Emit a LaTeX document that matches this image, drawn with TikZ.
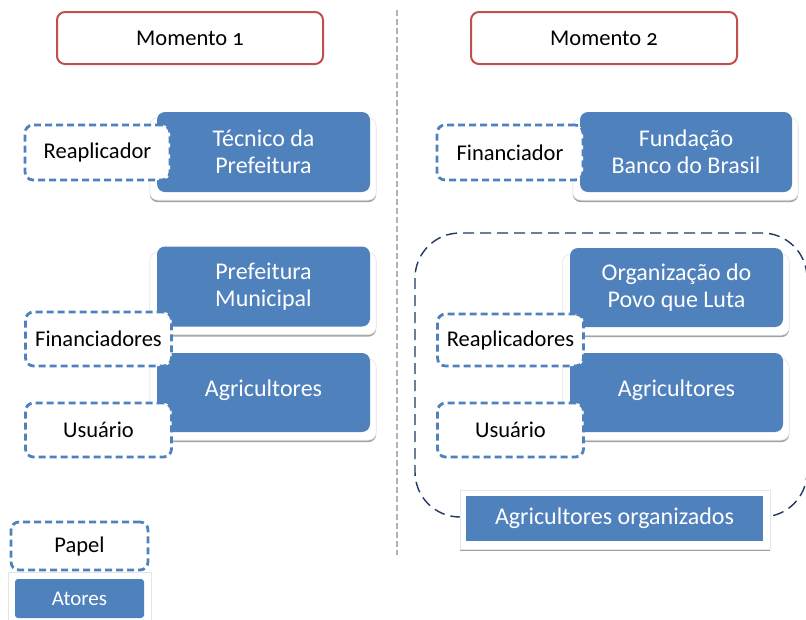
\documentclass[tikz,border=0pt]{standalone}
\usepackage{fontspec}
\setmainfont{Carlito}
\usepackage{tikz}
\usetikzlibrary{shadows,backgrounds}
\definecolor{atorblue}{HTML}{4F81BD}
\definecolor{momred}{HTML}{C0504D}
\definecolor{grupoline}{HTML}{1F3864}
\tikzset{
  % kaders bovenaan
  momento/.style={draw=momred,line width=2pt,rounded corners=8pt,fill=white,
    minimum width=266pt,minimum height=52pt,inner sep=0pt,
    font=\fontsize{22.5}{27}\selectfont\addfontfeatures{Numbers=OldStyle}},
  % rollen (gestreept) en actoren (blauw)
  papel/.style={draw=atorblue,dash pattern=on 7pt off 4pt,line width=2.8pt,
    rounded corners=8pt,fill=white,minimum width=146pt,minimum height=54pt,
    inner sep=0pt,font=\fontsize{22.5}{27}\selectfont},
  ator/.style={fill=atorblue,rounded corners=8pt,text=white,align=center,
    minimum width=213pt,minimum height=80pt,inner sep=0pt,
    font=\fontsize{24}{27}\selectfont},
  painel/.style={fill=white,draw=gray!20,line width=.6pt,rounded corners=8pt,
    drop shadow={shadow xshift=0pt,shadow yshift=-2pt,fill=gray!80,opacity=.9}},
  grupo/.style={draw=grupoline,dash pattern=on 11pt off 6pt,line width=1.4pt,rounded corners=45pt},
  divisor/.style={draw=gray!60,dash pattern=on 6pt off 3pt,line width=1.2pt},
}
\begin{document}
\begin{tikzpicture}[x=1pt,y=-1pt]
  \useasboundingbox (0,0) rectangle (806,619);
  % momentos
  \node[momento] (m1) at (190,38) {Momento 1};
  \node[momento] (m2) at (604,38) {Momento 2};
  \coordinate (divtop) at (397,10);
  \coordinate (divbot) at (397,555);
  \draw[divisor] (divtop) -- (divbot);
  % momento 1
  \node[ator] (tecnico) at (263.5,152) {Técnico da\\Prefeitura};
  \node[ator] (prefeitura) at (263.5,286.5) {Prefeitura\\Municipal};
  \node[ator,minimum height=79pt] (agric1) at (263.5,392.5) {\raisebox{9pt}{Agricultores}};
  \node[papel,minimum width=145pt,minimum height=55pt] (reaplicador) at (97.5,152.5) {Reaplicador};
  \node[papel] (financiadores) at (98.5,339) {Financiadores};
  \node[papel] (usuario1) at (98.5,430) {Usuário};
  % momento 2
  \node[ator,minimum width=212pt] (fundacao) at (686,152) {Fundação\\Banco do Brasil};
  \node[ator,minimum height=79pt] (organizacao) at (676.5,287.5) {Organização do\\Povo que Luta};
  \node[ator,minimum height=79pt] (agric2) at (676.5,392.5) {\raisebox{9pt}{Agricultores}};
  \node[papel,minimum height=55pt] (financiador) at (510,152.5) {Financiador};
  \node[papel,minimum height=52pt] (reaplicadores) at (510.5,340) {Reaplicadores};
  \node[papel] (usuario2) at (510.5,430) {Usuário};
  \node[ator,rounded corners=0pt,minimum width=297pt,minimum height=45pt] (organizados) at (614.5,518.5) {Agricultores organizados};
  % legenda
  \node[papel,minimum width=137pt,minimum height=48pt] (papel) at (79.5,546) {Papel};
  \node[ator,rounded corners=3pt,minimum width=129pt,minimum height=39pt,font=\fontsize{21}{25}\selectfont] (atores) at (79.5,598.5) {Atores};
  % achtergrond: groep en panelen
  \begin{scope}[on background layer]
    \draw[grupo] (415,233) rectangle (807,517);
    \foreach \n in {tecnico,prefeitura,agric1,fundacao,organizacao,agric2}
      \draw[painel] ([xshift=-7pt,yshift=-6pt]\n.north west) rectangle ([xshift=6pt,yshift=-8pt]\n.south east);
    \draw[painel,rounded corners=0pt] ([xshift=-6pt,yshift=6pt]organizados.north west) rectangle ([xshift=7pt,yshift=-8pt]organizados.south east);
    \draw[painel,rounded corners=0pt] ([xshift=-7pt,yshift=7pt]atores.north west) rectangle ([xshift=7pt,yshift=-8pt]atores.south east);
  \end{scope}
\end{tikzpicture}
\end{document}
